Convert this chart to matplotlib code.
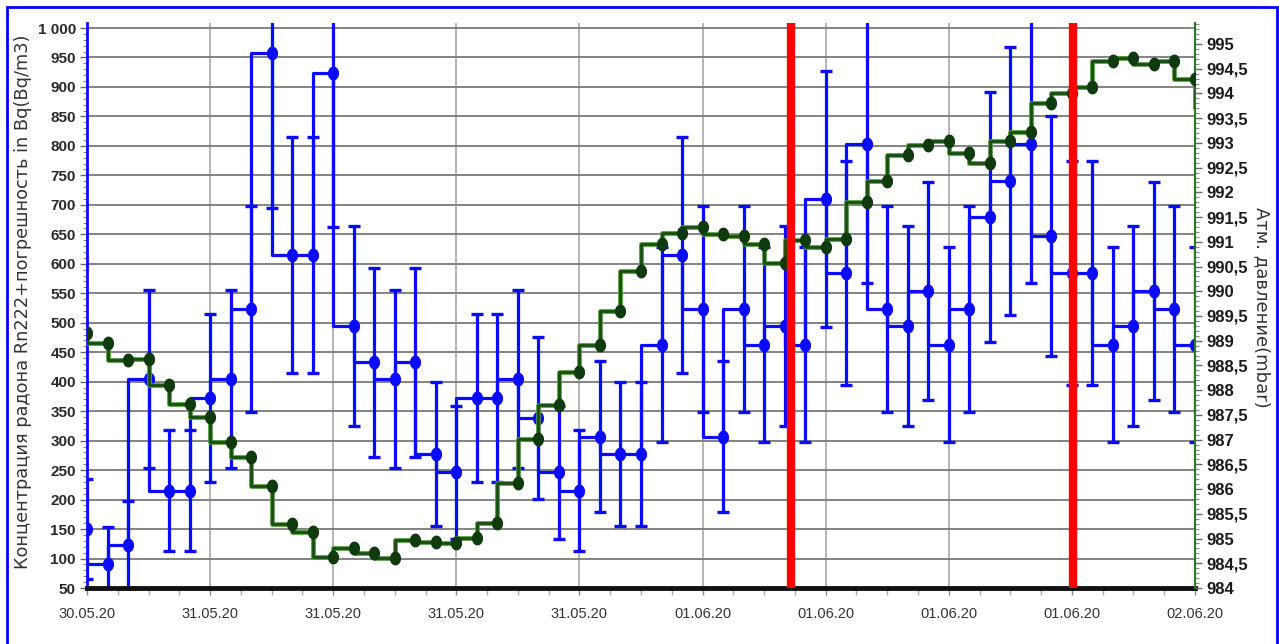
import matplotlib
matplotlib.use("Agg")
import matplotlib.pyplot as plt
from matplotlib.patches import Rectangle
from matplotlib.path import Path
import numpy as np

# ---- data ----
radon = [150, 90, 123, 404, 215, 215, 372, 404, 523, 958, 615, 615, 924, 494, 433, 404,
         433, 277, 246, 372, 372, 404, 338, 246, 215, 307, 277, 277, 463, 615, 523, 307,
         523, 463, 494, 463, 710, 585, 803, 523, 494, 554, 463, 523, 680, 740, 803, 647,
         585, 585, 463, 494, 554, 523, 463]
radon_err = [85, 64, 74, 151, 103, 103, 143, 151, 175, 263, 200, 200, 262, 170, 160, 151,
             160, 122, 113, 143, 143, 151, 137, 113, 103, 128, 122, 122, 165, 200, 175, 128,
             175, 165, 170, 165, 217, 190, 236, 175, 170, 185, 165, 175, 212, 227, 236, 204,
             190, 190, 165, 170, 185, 175, 165]
pressure = [989.15, 988.96, 988.61, 988.63, 988.10, 987.73, 987.46, 986.96, 986.64, 986.07,
            985.29, 985.14, 984.62, 984.80, 984.70, 984.60, 984.98, 984.92, 984.90, 985.01,
            985.31, 986.13, 987.01, 987.70, 988.37, 988.91, 989.60, 990.41, 990.95, 991.17,
            991.29, 991.15, 991.12, 990.95, 990.58, 991.04, 990.89, 991.06, 991.81, 992.22,
            992.76, 992.95, 993.04, 992.79, 992.59, 993.03, 993.21, 993.80, 994.00, 994.14,
            994.66, 994.71, 994.60, 994.66, 994.29, 993.70]
x_labels = ['30.05.20', '31.05.20', '31.05.20', '31.05.20', '31.05.20',
            '01.06.20', '01.06.20', '01.06.20', '01.06.20', '02.06.20']
event_positions = [34.3, 48.05]

left_ticks = list(range(50, 1001, 50))
left_labels = ['1 000' if v == 1000 else str(v) for v in left_ticks]
right_ticks = [984 + 0.5 * i for i in range(23)]
right_labels = [('%g' % v).replace('.', ',') for v in right_ticks]

# vertical ellipse marker
_t = np.linspace(0, 2 * np.pi, 41)
ellipse = Path(np.column_stack([0.78 * np.cos(_t), np.sin(_t)]), closed=True)

# ---- figure ----
W, H = 1279, 644
fig = plt.figure(figsize=(W / 100, H / 100), dpi=100)
ax_left, ax_right_px, ax_top, ax_bot = 87, 1195, 22.7, 588
ax = fig.add_axes([ax_left / W, 1 - ax_bot / H, (ax_right_px - ax_left) / W, (ax_bot - ax_top) / H])
ax2 = ax.twinx()

xr = np.arange(len(radon))
xp = np.arange(len(pressure))

blue = '#0a0aff'
ax.plot(xr, radon, drawstyle='steps-pre', color=blue, lw=2.3, zorder=3)
ax.errorbar(xr, radon, yerr=radon_err, fmt='none', ecolor=blue, elinewidth=2.3,
            capsize=4.5, capthick=2.4, zorder=3)
ax.plot(xr, radon, linestyle='none', marker=ellipse, color=blue, ms=9, zorder=4)

ax.set_xlim(0, 54)
ax.set_ylim(50, 1009)
ax2.set_ylim(984, 995.43)

# green pressure
ax2.plot(xp, pressure, drawstyle='steps-pre', color='#4a9a3a', lw=3.4, zorder=3)
ax2.plot(xp, pressure, drawstyle='steps-pre', color='#1a4a10', lw=1.9, zorder=3)
ax2.plot(xp, pressure, linestyle='none', marker=ellipse, color='#0e3a0e',
         mec='#0e3a0e', ms=9, zorder=4)

for xv in event_positions:
    ax2.axvline(xv, color='#ff0000', lw=6, zorder=10)

# grids
ax.set_yticks(left_ticks)
ax.set_yticklabels(left_labels)
ax.set_yticks(np.arange(50, 1001, 10), minor=True)
ax.set_xticks(np.arange(0, 55, 6))
ax.set_xticklabels(x_labels)
ax.set_xticks(np.arange(0, 54.1, 1.5), minor=True)
ax.grid(axis='y', which='major', color='#7a7a7a', lw=1.3, zorder=0)
ax.grid(axis='x', which='major', color='#a0a0a0', lw=1.1, zorder=0)
ax.set_axisbelow(True)

ax2.set_yticks(right_ticks)
ax2.set_yticklabels(right_labels)
ax2.set_yticks(np.arange(984, 995.41, 0.1), minor=True)

fam = ['Liberation Sans', 'DejaVu Sans']
for lab in ax.get_yticklabels():
    lab.set_fontsize(11); lab.set_fontweight('bold'); lab.set_color('#2a2a2a'); lab.set_family(fam)
for lab in ax2.get_yticklabels():
    lab.set_fontsize(12); lab.set_fontweight('bold'); lab.set_color('#1a1a1a'); lab.set_family(fam)
for lab in ax.get_xticklabels():
    lab.set_fontsize(10.5); lab.set_color('#333333'); lab.set_family(fam)

ax.tick_params(axis='y', which='major', length=5, width=1, color='#666666', pad=3)
ax.tick_params(axis='y', which='minor', length=3, width=0.8, color='#888888')
ax.tick_params(axis='x', which='major', length=5, width=1, color='#888888', pad=9)
ax.tick_params(axis='x', which='minor', length=5, width=1, color='#aaaaaa')
ax2.tick_params(axis='y', which='major', length=5, width=1, color='#666666', pad=3)
ax2.tick_params(axis='y', which='minor', length=3, width=0.8, color='#888888')

for a in (ax, ax2):
    a.spines['top'].set_visible(False)
ax.spines['left'].set_color(blue)
ax.spines['left'].set_linewidth(2)
ax.spines['right'].set_visible(False)
ax2.spines['left'].set_visible(False)
ax2.spines['bottom'].set_visible(False)
ax2.spines['right'].set_color('#2a7a2a')
ax2.spines['right'].set_linewidth(1.5)
ax.spines['bottom'].set_color('#111111')
ax.spines['bottom'].set_linewidth(3.5)
ax.spines['bottom'].set_zorder(11)

fig.text(23 / W, 1 - 302 / H, 'Концентрация радона Rn222+погрешность in Bq(Bq/m3)',
         rotation=90, ha='center', va='center', fontsize=12.8, color='#333333',
         family=['DejaVu Sans'])
fig.text(1262 / W, 1 - 307 / H, 'Атм. давление(mbar)', rotation=-90,
         ha='center', va='center', fontsize=13, color='#333333', family=['DejaVu Sans'])

# outer border
fig.patches.append(Rectangle((7 / W, -0.05), 1270 / W, 1.05 - 7 / H,
                             transform=fig.transFigure, fill=False,
                             edgecolor='#0000ff', lw=2, clip_on=False))

fig.savefig('out.png', dpi=100)
